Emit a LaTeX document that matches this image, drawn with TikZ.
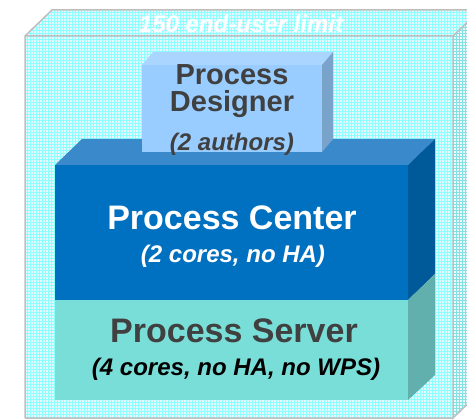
\documentclass[tikz,border=0pt]{standalone}
\usepackage{fontspec}
\setmainfont{Liberation Sans}
\usetikzlibrary{patterns}
\definecolor{dsgfront}{HTML}{99CCFF}
\definecolor{dsgtop}{HTML}{AAD5FF}
\definecolor{dsgside}{HTML}{7AA3CC}
\definecolor{ctrfront}{HTML}{0070C0}
\definecolor{ctrtop}{HTML}{3A8ACB}
\definecolor{ctrside}{HTML}{005A9A}
\definecolor{srvfront}{HTML}{7ADED8}
\definecolor{srvside}{HTML}{62B0AD}
\definecolor{txtgray}{HTML}{404040}
\tikzset{
	title/.style={anchor=base,font=\bfseries\fontsize{34}{37}\selectfont},
	dsgtitle/.style={anchor=base,text=txtgray,font=\bfseries\fontsize{29}{32}\selectfont},
	sub/.style={anchor=base,font=\bfseries\itshape\fontsize{24}{26}\selectfont},
	glass/.style={pattern=grid,pattern color=cyan!45},
}
\begin{document}
\begin{tikzpicture}[x=1pt,y=-1pt]
	\useasboundingbox (0,0) rectangle (467,420);
	\clip (0,0) rectangle (467,420);
	\fill[white] (0,0) rectangle (467,420);
	% limit box
	\fill[cyan!10] (25,36)-- (52,10)-- (480,10)-- (480,392)-- (453,418)-- (25,418)--cycle;
	\fill[cyan!8] (453,36)-- (480,10)-- (480,392)-- (453,418)--cycle;
	\fill[glass] (25,36)-- (52,10)-- (480,10)-- (480,392)-- (453,418)-- (25,418)--cycle;
	\fill[pattern=grid,pattern color=cyan!60!gray!60] (453,36)-- (480,10)-- (480,392)-- (453,418)--cycle;
	\draw[gray!50,line width=1.5pt] (25,418)-- (25,36)-- (52,10)-- (480,10)
		(25,36)-- (453,36)-- (480,10) (453,36)-- (453,418)-- (480,392) (25,418)-- (453,418);
	\node[sub,white] (limit) at (241,33) {150 end-user limit};
	% center
	\fill[ctrtop] (55,165)-- (82,139)-- (435,139)-- (408,165)--cycle;
	\fill[ctrside] (408,165)-- (435,139)-- (435,274)-- (408,300)--cycle;
	\fill[ctrfront] (55,165) rectangle (408,300);
	% server
	\fill[srvside] (408,300)-- (435,274)-- (435,375)-- (408,400)--cycle;
	\fill[srvfront] (55,300) rectangle (408,400);
	% designer
	\fill[dsgtop] (142,65)-- (153,52)-- (333,52)-- (322,65)--cycle;
	\fill[dsgside] (322,65)-- (333,52)-- (333,139)-- (322,152)--cycle;
	\fill[dsgfront] (142,65) rectangle (322,152);
	\node[dsgtitle] (dsg1) at (232,85) {Process};
	\node[dsgtitle] (dsg2) at (232,112) {Designer};
	\node[sub,text=txtgray] (dsgsub) at (232,151) {(2 authors)};
	\node[title,white] (ctr) at (232,230) {Process Center};
	\node[sub,white] (ctrsub) at (233,263) {(2 cores, no HA)};
	\node[title,text=txtgray] (srv) at (234,343) {Process Server};
	\node[sub,black] (srvsub) at (236,375) {(4 cores, no HA, no WPS)};
\end{tikzpicture}
\end{document}
